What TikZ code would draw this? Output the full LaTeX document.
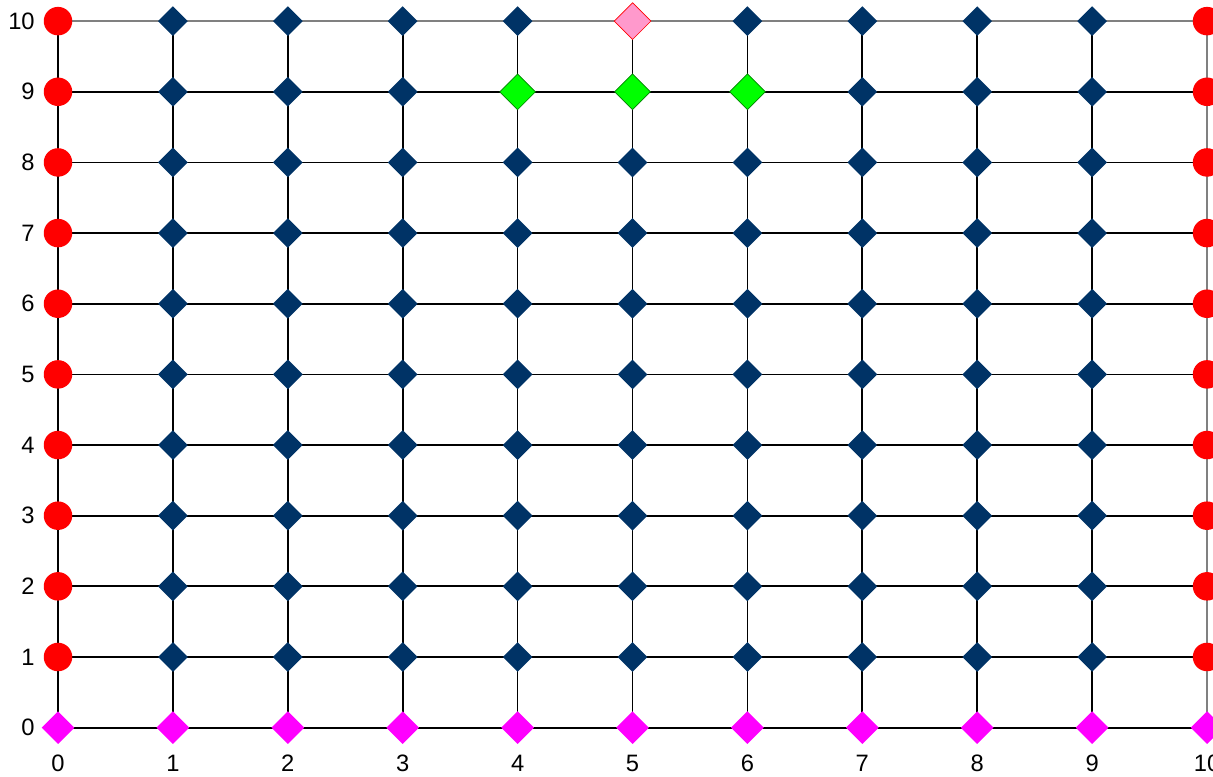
\documentclass[tikz,border=0pt]{standalone}
\usepackage{fontspec}
\setmainfont{Liberation Sans}
\usepackage{xcolor}
\usetikzlibrary{shapes.geometric, backgrounds}

\definecolor{navy}{RGB}{0,51,102}
\definecolor{limegreen}{RGB}{0,255,0}
\definecolor{darkgreen}{RGB}{0,128,0}
\definecolor{softpink}{RGB}{255,153,204}
\definecolor{brightmagenta}{RGB}{255,0,255}
\definecolor{brightred}{RGB}{255,0,0}

\begin{document}
\begin{tikzpicture}[
    x = 2.298cm, y = 1.413cm,
    inner/.style = {diamond, fill=navy, minimum size=0.6cm, inner sep=0pt},
    open/.style = {diamond, fill=limegreen, draw=darkgreen, thin, minimum size=0.72cm, inner sep=0pt},
    goal/.style = {diamond, fill=softpink, draw=brightred, thin, minimum size=0.74cm, inner sep=0pt},
    bottom/.style = {diamond, fill=brightmagenta, minimum size=0.66cm, inner sep=0pt},
    side/.style = {circle, fill=brightred, minimum size=0.57cm, inner sep=0pt},
    edge/.style = {line width=1pt, black},
    rim/.style = {line width=1pt, gray},
    lab/.style = {inner sep=0pt, font=\fontsize{13.5}{16}\selectfont}
]

% Page frame
\useasboundingbox (-0.5048,-0.685) rectangle (10.052,10.299);
\clip (-0.5048,-0.685) rectangle (10.052,10.299);

% Bottom row
\foreach \i in {0,...,10}
    \node (n-\i-0) [bottom] at (\i,0) {};

% Left and right columns
\foreach \j in {1,...,10} {
    \node (n-0-\j) [side] at (0,\j) {};
    \node (n-10-\j) [side] at (10,\j) {};
}

% Inner grid
\foreach \i in {1,...,9}
    \foreach \j in {1,...,10} {
        \def\kind{inner}
        \ifnum\j=9 \ifnum\i>3 \ifnum\i<7 \def\kind{open}\fi\fi\fi
        \ifnum\j=10 \ifnum\i=5 \def\kind{goal}\fi\fi
        \node (n-\i-\j) [\kind] at (\i,\j) {};
    }

% Axis labels
\foreach \j in {0,...,10}
    \node (yl-\j) [lab, anchor=east] at ([xshift=-0.46cm]n-0-\j.center) {\j};
\foreach \i in {0,...,10}
    \node (xl-\i) [lab] at ([yshift=-0.72cm]n-\i-0.center) {\i};

% Grid lines
\begin{scope}[on background layer]
\foreach \a [count=\b from 1] in {0,...,9} {
    \foreach \j in {0,...,9}
        \draw [edge] (n-\a-\j.center) -- (n-\b-\j.center);
    \draw [rim] (n-\a-10.center) -- (n-\b-10.center);
    \foreach \i in {0,...,9}
        \draw [edge] (n-\i-\a.center) -- (n-\i-\b.center);
    \draw [rim] (n-10-\a.center) -- (n-10-\b.center);
}
\end{scope}

\end{tikzpicture}
\end{document}
